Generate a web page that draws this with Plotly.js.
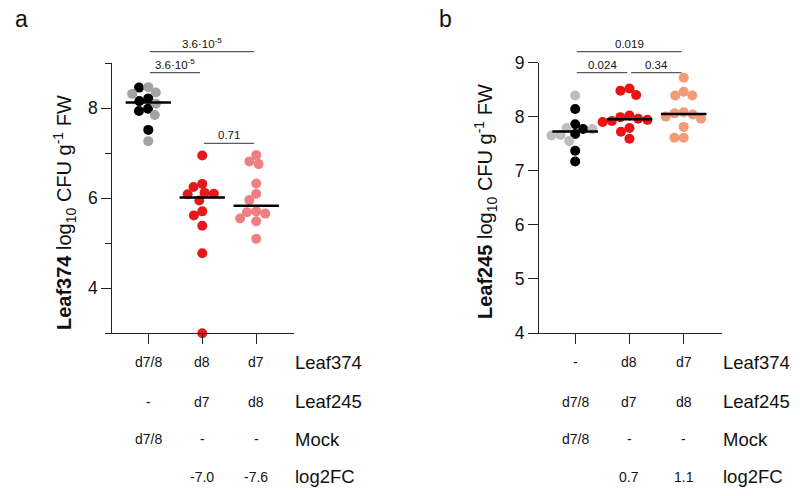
<!DOCTYPE html>
<html><head><meta charset="utf-8">
<script src="https://cdn.plot.ly/plotly-3.0.1.min.js"></script>
<style>html,body{margin:0;padding:0;background:#fff}</style>
</head><body><div id="chart" style="width:800px;height:496px"></div>
<script>
// ---------------- DATA ----------------
const categories = [0, 1, 2];
// Panel a: Leaf374 load (log10 CFU/g FW)
const a_mock_rep1 = [8.46, 8.22, 8.16, 7.99, 7.94, 7.52];           // black
const a_mock_rep2 = [8.47, 8.35, 8.32, 8.10, 7.85, 7.27];           // gray
const a_d8_with245 = [6.95, 6.32, 6.25, 6.12, 6.10, 6.09, 5.95, 5.71, 5.62, 5.39, 4.78, 3.00];
const a_d7_with245 = [6.96, 6.82, 6.76, 6.33, 6.10, 5.96, 5.71, 5.69, 5.66, 5.55, 5.49, 5.10];
// Panel b: Leaf245 load (log10 CFU/g FW)
const b_mock_rep1 = [8.14, 7.86, 7.77, 7.68, 7.37, 7.17];           // black
const b_mock_rep2 = [8.39, 7.79, 7.77, 7.66, 7.65, 7.55];           // gray
const b_d7_with374 = [8.52, 8.48, 8.40, 8.02, 7.99, 7.96, 7.94, 7.92, 7.90, 7.79, 7.72, 7.59];
const b_d8_with374 = [8.72, 8.46, 8.39, 8.39, 8.08, 8.06, 8.04, 8.00, 7.96, 7.81, 7.61, 7.61];
// significance brackets
const a_pairs = [[0, 2], [0, 1], [1, 2]];
const a_pvals = ['3.6·10<sup>-5</sup>', '3.6·10<sup>-5</sup>', '0.71'];
const b_pairs = [[0, 2], [0, 1], [1, 2]];
const b_pvals = ['0.019', '0.024', '0.34'];
// condition table
const rowLabels = ['Leaf374', 'Leaf245', 'Mock', 'log2FC'];
const a_table = [['d7/8', 'd8', 'd7'], ['-', 'd7', 'd8'], ['d7/8', '-', '-'], ['', '-7.0', '-7.6']];
const b_table = [['-', 'd8', 'd7'], ['d7/8', 'd7', 'd8'], ['d7/8', '-', '-'], ['', '0.7', '1.1']];
const a_title = '<b>Leaf374</b> log<sub>10</sub> CFU g<sup>-1</sup> FW';
const b_title = '<b>Leaf245</b> log<sub>10</sub> CFU g<sup>-1</sup> FW';

// ---------------- LAYOUT / STYLE ----------------
const W = 800, H = 496;
const FONT = 'Liberation Sans, Arial, Helvetica, sans-serif';
const C = {black: '#000000', gray: '#a3a3a3', gray2: '#bdbdbd', red: '#e31a1c', red2: '#ee1111', pink: '#f07f82', salmon: '#f29b79'};
const px = (p) => p / W;           // pixel -> paper x
const py = (p) => 1 - p / H;       // pixel -> paper y (from top)

const A = {xd: [112.3, 294], yd: [63.3, 333.3], xr: [-0.667, 2.7], yr: [3, 9]};
const B = {xd: [539, 721.7], yd: [62.5, 333], xr: [-0.667, 2.7], yr: [4, 9]};
function scales(P) {
  return {x: (P.xd[1] - P.xd[0]) / (P.xr[1] - P.xr[0]), y: (P.yd[1] - P.yd[0]) / (P.yr[1] - P.yr[0])};
}

function median(arr) {
  const s = arr.slice().sort((a, b) => a - b); const n = s.length;
  return n % 2 ? s[(n - 1) / 2] : (s[n / 2 - 1] + s[n / 2]) / 2;
}
// beeswarm: offsets in x-axis units so markers of spacing d (px) do not overlap
function swarm(vals, sc, d) {
  const idx = vals.map((v, i) => i).sort((a, b) => vals[b] - vals[a]);
  const placed = []; const off = new Array(vals.length);
  for (const i of idx) {
    const y = vals[i] * sc.y; const ivs = [];
    for (const p of placed) {
      const dy = Math.abs(p.y - y);
      if (dy < d) { const h = Math.sqrt(d * d - dy * dy); ivs.push([p.x - h, p.x + h]); }
    }
    const cands = [0]; ivs.forEach(iv => cands.push(iv[0], iv[1]));
    cands.sort((a, b) => Math.abs(a) - Math.abs(b) || a - b);
    let x = 0;
    for (const c of cands) { if (ivs.every(iv => c <= iv[0] + 1e-6 || c >= iv[1] - 1e-6)) { x = c; break; } }
    placed.push({x, y}); off[i] = x / sc.x;
  }
  return off;
}

const traces = [];
const medians = [];
function addGroup(cat, sets, P, xa, ya) {
  const all = [], cols = [];
  sets.forEach(s => s.vals.forEach(v => { all.push(v); cols.push(s.color); }));
  const off = swarm(all, scales(P), 9.3);
  traces.push({type: 'scatter', mode: 'markers', x: all.map((v, i) => cat + off[i]), y: all,
    marker: {size: 10, color: cols, line: {width: 0}}, xaxis: xa, yaxis: ya, cliponaxis: false, hoverinfo: 'skip', showlegend: false});
  const m = median(all);
  medians.push({type: 'scatter', mode: 'lines', x: [cat - 0.42, cat + 0.42], y: [m, m],
    line: {color: '#000', width: 2.5}, xaxis: xa, yaxis: ya, hoverinfo: 'skip', showlegend: false});
}
addGroup(categories[0], [{vals: a_mock_rep1, color: C.black}, {vals: a_mock_rep2, color: C.gray}], A, 'x', 'y');
addGroup(categories[1], [{vals: a_d8_with245, color: C.red}], A, 'x', 'y');
addGroup(categories[2], [{vals: a_d7_with245, color: C.pink}], A, 'x', 'y');
addGroup(categories[0], [{vals: b_mock_rep1, color: C.black}, {vals: b_mock_rep2, color: C.gray2}], B, 'x2', 'y2');
addGroup(categories[1], [{vals: b_d7_with374, color: C.red2}], B, 'x2', 'y2');
addGroup(categories[2], [{vals: b_d8_with374, color: C.salmon}], B, 'x2', 'y2');

const shapes = [], annotations = [];
function brackets(pairs, labels, levelsPx, xref) {
  pairs.forEach((pr, k) => {
    const x0 = pr[0] + 0.03, x1 = pr[1] - 0.04;
    shapes.push({type: 'line', xref: xref, yref: 'paper', x0: x0, x1: x1, y0: py(levelsPx[k]), y1: py(levelsPx[k]),
      line: {color: '#333', width: 1}});
    annotations.push({xref: xref, yref: 'paper', x: (x0 + x1) / 2, y: py(levelsPx[k]), yanchor: 'bottom', xanchor: 'center',
      text: labels[k], showarrow: false, font: {size: 11.5, color: '#111', family: FONT}});
  });
}
brackets(a_pairs, a_pvals, [51.7, 72.7, 143.3], 'x');
brackets(b_pairs, b_pvals, [51.7, 72.7, 72.7], 'x2');

const rowY = [362, 401.5, 439, 476.5];
function table(tbl, xref, labelX) {
  tbl.forEach((row, r) => {
    row.forEach((t, c) => {
      if (t === '') return;
      annotations.push({xref: xref, yref: 'paper', x: categories[c], y: py(rowY[r]), xanchor: 'center', yanchor: 'middle',
        text: t, showarrow: false, font: {size: 14, color: '#111', family: FONT}});
    });
    annotations.push({xref: 'paper', yref: 'paper', x: px(labelX), y: py(rowY[r]), xanchor: 'left', yanchor: 'middle',
      text: rowLabels[r], showarrow: false, font: {size: 18.5, color: '#111', family: FONT}});
  });
}
table(a_table, 'x', 293);
table(b_table, 'x2', 721);

annotations.push({xref: 'paper', yref: 'paper', x: px(64), y: py(213), textangle: -90, xanchor: 'center', yanchor: 'middle',
  text: a_title, showarrow: false, font: {size: 20, color: '#111', family: FONT}});
annotations.push({xref: 'paper', yref: 'paper', x: px(485), y: py(201), textangle: -90, xanchor: 'center', yanchor: 'middle',
  text: b_title, showarrow: false, font: {size: 20, color: '#111', family: FONT}});
annotations.push({xref: 'paper', yref: 'paper', x: px(21), y: py(19), xanchor: 'center', yanchor: 'middle',
  text: 'a', showarrow: false, font: {size: 23, color: '#111', family: FONT}});
annotations.push({xref: 'paper', yref: 'paper', x: px(445), y: py(19), xanchor: 'center', yanchor: 'middle',
  text: 'b', showarrow: false, font: {size: 23, color: '#111', family: FONT}});

const axBase = {showline: true, linecolor: '#222', linewidth: 1, ticks: 'outside', ticklen: 10, tickwidth: 1, tickcolor: '#222',
  showgrid: false, zeroline: false, fixedrange: true, tickfont: {size: 17.5, color: '#111', family: FONT}};
const layout = {
  width: W, height: H, margin: {l: 0, r: 0, t: 0, b: 0, pad: 0},
  paper_bgcolor: '#fff', plot_bgcolor: 'rgba(0,0,0,0)', showlegend: false,
  font: {family: FONT, color: '#111'},
  xaxis: Object.assign({}, axBase, {domain: [px(A.xd[0]), px(A.xd[1])], range: A.xr, tickmode: 'array', tickvals: categories, showticklabels: false, anchor: 'y'}),
  yaxis: Object.assign({}, axBase, {domain: [py(A.yd[1]), py(A.yd[0])], range: A.yr, tickmode: 'linear', tick0: 0, dtick: 2, anchor: 'x',
    minor: {tickmode: 'linear', tick0: 3, dtick: 2, ticks: 'outside', ticklen: 6, tickcolor: '#222', tickwidth: 1}}),
  xaxis2: Object.assign({}, axBase, {domain: [px(B.xd[0]), px(B.xd[1])], range: B.xr, tickmode: 'array', tickvals: categories, showticklabels: false, anchor: 'y2'}),
  yaxis2: Object.assign({}, axBase, {domain: [py(B.yd[1]), py(B.yd[0])], range: B.yr, tickmode: 'linear', tick0: 0, dtick: 1, anchor: 'x2'}),
  shapes: shapes, annotations: annotations
};
Plotly.newPlot('chart', traces.concat(medians), layout, {displayModeBar: false, staticPlot: true});
</script>
</body></html>
